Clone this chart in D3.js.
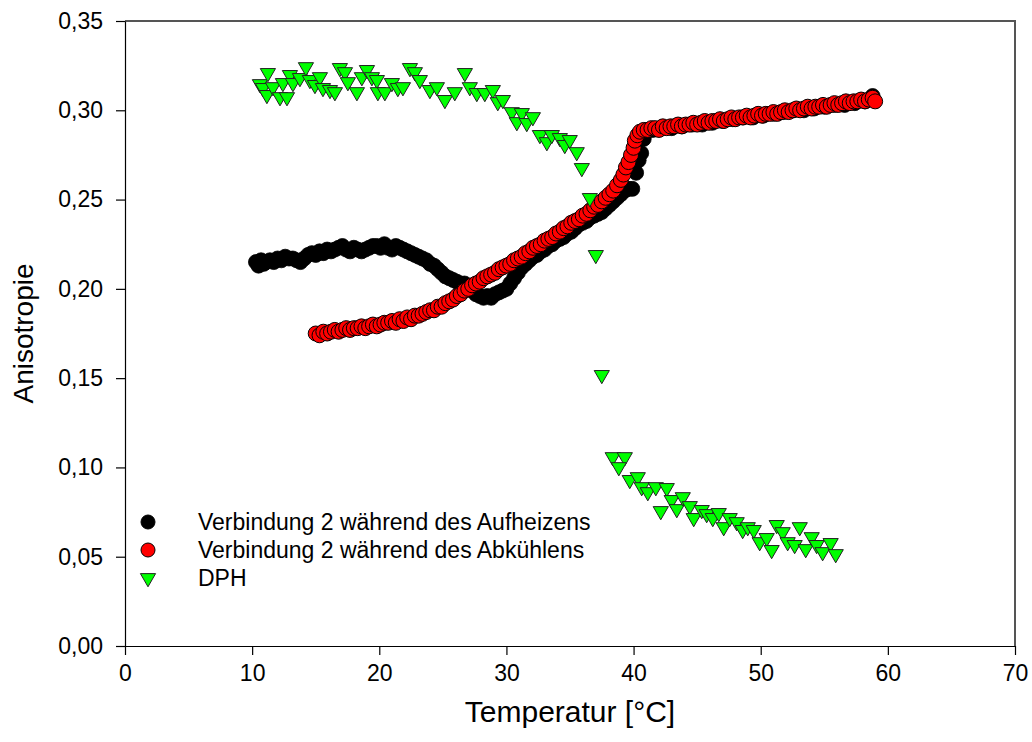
<!DOCTYPE html>
<html><head><meta charset="utf-8">
<script src="https://cdn.jsdelivr.net/npm/d3@7"></script>
<style>body{margin:0;background:#fff} text{font-family:"Liberation Sans",Arial,sans-serif;fill:#000}</style>
</head><body><svg id="c" width="1032" height="742"></svg>
<script>
// Verbindung 2 während des Aufheizens
const heatT=[10.3,10.5,10.7,10.9,11.1,11.4,11.7,12.0,12.3,12.6,12.9,13.2,13.5,13.8,14.1,14.4,14.7,15.0,15.3,15.6,15.9,16.2,16.5,16.8,17.1,17.4,17.7,18.0,18.3,18.6,18.9,19.2,19.5,19.8,20.1,20.4,20.7,21.0,21.3,21.6,21.9,22.2,22.5,22.8,23.1,23.4,23.7,24.0,24.3,24.6,24.9,25.2,25.5,25.8,26.1,26.4,26.7,27.0,27.3,27.6,27.9,28.2,28.5,28.8,29.1,29.4,29.7,30.0,30.3,30.6,30.9,31.2,31.5,31.8,32.1,32.4,32.7,33.0,33.3,33.6,33.9,34.2,34.5,34.8,35.1,35.4,35.7,36.0,36.3,36.6,36.9,37.2,37.5,37.8,38.1,38.4,38.7,39.0,39.3,39.6,39.9,40.2,40.4,40.6,40.8,41.0,41.5,42.2,43.0,43.8,44.6,45.4,46.2,47.0,47.8,48.6,49.4,50.2,51.0,51.8,52.6,53.4,54.2,55.0,55.8,56.6,57.4,58.2,58.8];
const heatA=[0.215,0.213,0.216,0.214,0.215,0.216,0.215,0.217,0.216,0.218,0.217,0.217,0.216,0.215,0.217,0.219,0.220,0.219,0.221,0.220,0.222,0.221,0.222,0.223,0.224,0.222,0.221,0.223,0.222,0.221,0.222,0.223,0.224,0.224,0.223,0.225,0.223,0.222,0.224,0.223,0.222,0.221,0.220,0.219,0.218,0.217,0.216,0.214,0.213,0.211,0.209,0.207,0.206,0.205,0.204,0.203,0.203,0.201,0.199,0.197,0.196,0.195,0.196,0.195,0.197,0.198,0.199,0.200,0.203,0.206,0.209,0.212,0.214,0.216,0.218,0.219,0.221,0.222,0.224,0.225,0.227,0.228,0.229,0.231,0.232,0.234,0.236,0.237,0.238,0.240,0.241,0.242,0.243,0.245,0.247,0.249,0.251,0.253,0.255,0.256,0.256,0.265,0.272,0.276,0.284,0.288,0.289,0.290,0.290,0.291,0.292,0.292,0.293,0.294,0.295,0.296,0.296,0.297,0.298,0.299,0.300,0.300,0.301,0.302,0.303,0.303,0.304,0.305,0.308];
// Verbindung 2 während des Abkühlens
const coolT=[15.0,15.3,15.6,15.9,16.2,16.5,16.8,17.1,17.4,17.7,18.0,18.3,18.6,18.9,19.2,19.5,19.8,20.1,20.4,20.7,21.0,21.3,21.6,21.9,22.2,22.5,22.8,23.1,23.4,23.7,24.0,24.3,24.6,24.9,25.2,25.5,25.8,26.1,26.4,26.7,27.0,27.3,27.6,27.9,28.2,28.5,28.8,29.1,29.4,29.7,30.0,30.3,30.6,30.9,31.2,31.5,31.8,32.1,32.4,32.7,33.0,33.3,33.6,33.9,34.2,34.5,34.8,35.1,35.4,35.7,36.0,36.3,36.6,36.9,37.2,37.5,37.8,38.1,38.4,38.7,39.0,39.2,39.4,39.6,39.8,40.0,40.1,40.3,40.5,40.8,41.1,41.4,41.7,42.0,42.3,42.6,42.9,43.2,43.5,43.8,44.1,44.4,44.7,45.0,45.3,45.6,45.9,46.2,46.5,46.8,47.1,47.4,47.7,48.0,48.3,48.6,48.9,49.2,49.5,49.8,50.1,50.4,50.7,51.0,51.3,51.6,51.9,52.2,52.5,52.8,53.1,53.4,53.7,54.0,54.3,54.6,54.9,55.2,55.5,55.8,56.1,56.4,56.7,57.0,57.3,57.6,57.9,58.2,58.5,58.8,59.0];
const coolA=[0.175,0.174,0.176,0.175,0.176,0.177,0.176,0.177,0.178,0.177,0.178,0.178,0.179,0.178,0.179,0.180,0.179,0.180,0.181,0.181,0.182,0.181,0.183,0.182,0.184,0.183,0.185,0.185,0.186,0.187,0.188,0.188,0.190,0.190,0.192,0.193,0.194,0.196,0.197,0.199,0.200,0.202,0.203,0.204,0.206,0.207,0.208,0.209,0.211,0.212,0.213,0.214,0.216,0.217,0.218,0.220,0.221,0.223,0.224,0.225,0.227,0.228,0.229,0.231,0.232,0.234,0.235,0.237,0.238,0.239,0.241,0.242,0.244,0.246,0.247,0.249,0.251,0.253,0.255,0.258,0.261,0.264,0.268,0.271,0.275,0.279,0.283,0.286,0.288,0.289,0.289,0.290,0.290,0.289,0.291,0.290,0.291,0.291,0.292,0.291,0.292,0.292,0.293,0.292,0.293,0.294,0.293,0.294,0.294,0.295,0.294,0.295,0.296,0.295,0.296,0.296,0.297,0.296,0.297,0.298,0.297,0.298,0.298,0.299,0.298,0.299,0.300,0.299,0.300,0.301,0.300,0.301,0.302,0.301,0.302,0.302,0.303,0.302,0.303,0.304,0.303,0.304,0.305,0.304,0.305,0.305,0.306,0.305,0.306,0.307,0.305];
// DPH
const dphT=[10.61,10.85,11.24,11.16,11.64,12.19,12.42,12.74,12.97,13.21,13.76,14.23,14.54,14.94,15.33,15.57,16.12,16.51,16.90,17.30,17.53,18.24,18.63,19.03,19.42,19.81,19.89,20.44,20.99,21.46,21.86,22.41,22.80,23.19,23.98,24.53,25.16,25.94,26.73,27.12,27.67,28.30,28.93,29.32,29.72,30.42,30.82,31.21,31.60,32.08,32.63,33.18,33.57,34.20,34.59,34.98,35.53,35.93,36.56,37.03,37.50,38.36,39.31,38.84,39.70,40.33,40.64,41.12,41.75,42.14,42.61,43.00,43.40,43.87,44.42,44.73,45.36,45.75,46.23,46.70,47.09,47.56,48.11,48.58,48.98,49.45,49.92,50.47,50.86,51.26,51.73,52.12,52.67,53.07,53.54,54.01,54.40,54.87,55.50,55.90];
const dphA=[0.3147,0.3125,0.3209,0.3086,0.3130,0.3074,0.3153,0.3074,0.3198,0.3153,0.3181,0.3242,0.3170,0.3142,0.3186,0.3125,0.3114,0.3102,0.3237,0.3214,0.3158,0.3102,0.3186,0.3226,0.3186,0.3170,0.3102,0.3102,0.3153,0.3125,0.3130,0.3237,0.3214,0.3170,0.3114,0.3130,0.3058,0.3102,0.3209,0.3130,0.3097,0.3097,0.3114,0.3046,0.3058,0.2990,0.2934,0.2985,0.2929,0.2962,0.2862,0.2822,0.2862,0.2845,0.2806,0.2834,0.2766,0.2677,0.2509,0.2190,0.1518,0.1058,0.1058,0.1002,0.0930,0.0946,0.0890,0.0862,0.0890,0.0756,0.0885,0.0818,0.0767,0.0834,0.0784,0.0717,0.0762,0.0739,0.0717,0.0745,0.0666,0.0717,0.0694,0.0650,0.0666,0.0650,0.0582,0.0605,0.0538,0.0678,0.0638,0.0582,0.0566,0.0666,0.0543,0.0610,0.0566,0.0526,0.0577,0.0515];
const xTicks=[0,10,20,30,40,50,60,70];
const yTicks=[0,0.05,0.10,0.15,0.20,0.25,0.30,0.35];
const legendLabels=["Verbindung 2 während des Aufheizens","Verbindung 2 während des Abkühlens","DPH"];
const xTitle="Temperatur [°C]", yTitle="Anisotropie";

const svg=d3.select("#c");
svg.append("rect").attr("width",1032).attr("height",742).attr("fill","#fff");
const x=d3.scaleLinear().domain([0,70]).range([125,1015]);
const y=d3.scaleLinear().domain([0,0.35]).range([646,21]);

// frame (top/right)
svg.append("path").attr("d",`M${x(0)},${y(0.35)}H${x(70)}V${y(0)}`).attr("fill","none").attr("stroke","#555").attr("stroke-width",2);

const fmtY=d=>d3.format(".2f")(d).replace(".",",");
const gx=svg.append("g").attr("transform",`translate(0,${y(0)})`)
  .call(d3.axisBottom(x).tickValues(xTicks).tickSize(9).tickSizeOuter(0).tickPadding(10).tickFormat(d3.format("d")));
const gy=svg.append("g").attr("transform",`translate(${x(0)},0)`)
  .call(d3.axisLeft(y).tickValues(yTicks).tickSize(9).tickSizeOuter(0).tickPadding(13).tickFormat(fmtY));
[gx,gy].forEach(g=>{g.selectAll("text").attr("font-size",23).attr("font-family","Liberation Sans, Arial, sans-serif").attr("fill","#000");
  g.selectAll("line,path").attr("stroke","#000").attr("stroke-width",1.2);});

// series
const heat=heatT.map((t,i)=>[t,heatA[i]]);
const cool=coolT.map((t,i)=>[t,coolA[i]]);
const dph=dphT.map((t,i)=>[t,dphA[i]]);
svg.append("g").selectAll("circle").data(heat).join("circle")
  .attr("cx",d=>x(d[0])).attr("cy",d=>y(d[1])).attr("r",7.5).attr("fill","#000").attr("stroke","#000").attr("stroke-width",0.8);
svg.append("g").selectAll("circle").data(cool).join("circle")
  .attr("cx",d=>x(d[0])).attr("cy",d=>y(d[1])).attr("r",7.5).attr("fill","#ff0000").attr("stroke","#000").attr("stroke-width",1);
const tri=d3.symbol().type(d3.symbolTriangle).size(100);
svg.append("g").selectAll("path").data(dph).join("path")
  .attr("d",tri).attr("transform",d=>`translate(${x(d[0])},${y(d[1])}) rotate(180)`)
  .attr("fill","#00ff00").attr("stroke","#222").attr("stroke-width",1);

// legend
const lg=svg.append("g");
const ly=[522,550,578];
lg.append("circle").attr("cx",148).attr("cy",ly[0]).attr("r",7).attr("fill","#000").attr("stroke","#000");
lg.append("circle").attr("cx",148).attr("cy",ly[1]).attr("r",7).attr("fill","#ff0000").attr("stroke","#000");
lg.append("path").attr("d",tri).attr("transform",`translate(148,${ly[2]}) rotate(180)`).attr("fill","#00ff00").attr("stroke","#222");
legendLabels.forEach((s,i)=>lg.append("text").attr("x",198).attr("y",ly[i]).attr("dy","0.35em").attr("font-size",23).text(s));

// titles
svg.append("text").attr("x",(x(0)+x(70))/2).attr("y",722).attr("text-anchor","middle").attr("font-size",30).text(xTitle);
svg.append("text").attr("transform",`translate(33,${(y(0)+y(0.35))/2}) rotate(-90)`).attr("text-anchor","middle").attr("font-size",28).text(yTitle);
</script></body></html>
